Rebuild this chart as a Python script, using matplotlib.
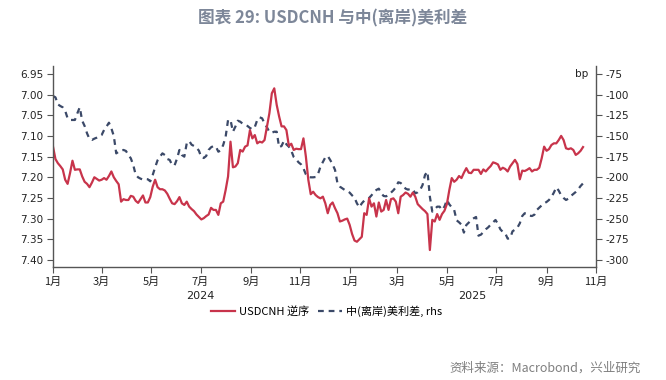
import numpy as np
import pandas as pd
import matplotlib
matplotlib.use("Agg")
import matplotlib.pyplot as plt
import matplotlib.dates as mdates
import matplotlib.transforms as mtransforms

plt.rcParams['font.family'] = ['Noto Sans CJK SC', 'DejaVu Sans']

# USDCNH (left axis, inverted), sampled every 3 days from 2024-01-01
usdcnh = [
    7.126, 7.156, 7.166, 7.173, 7.181, 7.206, 7.216, 7.190, 7.160, 7.182,
    7.181, 7.181, 7.198, 7.211, 7.216, 7.224, 7.213, 7.200, 7.204, 7.208,
    7.206, 7.202, 7.206, 7.197, 7.186, 7.200, 7.209, 7.217, 7.259, 7.253,
    7.255, 7.255, 7.245, 7.247, 7.257, 7.262, 7.253, 7.244, 7.261, 7.261,
    7.248, 7.223, 7.206, 7.224, 7.229, 7.229, 7.232, 7.240, 7.252, 7.263,
    7.265, 7.258, 7.248, 7.263, 7.267, 7.259, 7.271, 7.277, 7.282, 7.290,
    7.296, 7.302, 7.299, 7.294, 7.290, 7.274, 7.279, 7.279, 7.291, 7.263,
    7.259, 7.231, 7.198, 7.114, 7.176, 7.174, 7.166, 7.134, 7.138, 7.126,
    7.123, 7.086, 7.106, 7.098, 7.118, 7.114, 7.116, 7.110, 7.077, 7.045,
    6.997, 6.985, 7.025, 7.053, 7.077, 7.077, 7.086, 7.124, 7.119, 7.134,
    7.131, 7.132, 7.132, 7.106, 7.150, 7.206, 7.241, 7.235, 7.243, 7.248,
    7.251, 7.247, 7.263, 7.287, 7.267, 7.261, 7.275, 7.287, 7.307, 7.305,
    7.302, 7.300, 7.315, 7.337, 7.353, 7.356, 7.350, 7.344, 7.287, 7.291,
    7.251, 7.271, 7.263, 7.295, 7.261, 7.283, 7.279, 7.255, 7.279, 7.253,
    7.251, 7.259, 7.287, 7.247, 7.243, 7.237, 7.240, 7.247, 7.237, 7.247,
    7.265, 7.271, 7.277, 7.282, 7.289, 7.376, 7.303, 7.307, 7.289, 7.303,
    7.289, 7.281, 7.265, 7.231, 7.202, 7.211, 7.206, 7.197, 7.202, 7.189,
    7.178, 7.189, 7.190, 7.182, 7.182, 7.182, 7.192, 7.181, 7.186, 7.179,
    7.173, 7.164, 7.166, 7.169, 7.182, 7.177, 7.180, 7.186, 7.174, 7.166,
    7.158, 7.168, 7.205, 7.184, 7.185, 7.182, 7.178, 7.186, 7.182, 7.182,
    7.177, 7.154, 7.126, 7.136, 7.132, 7.122, 7.118, 7.118, 7.110, 7.100,
    7.110, 7.130, 7.132, 7.130, 7.134, 7.146, 7.142, 7.136, 7.127,
]

# CNH-US spread in bp (right axis)
spread = [
    -101.6, -103.2, -111.7, -113.7, -115.3, -119.4, -128.6, -130.6, -130.6, -130.6,
    -122.6, -115.3, -131.5, -137.9, -146.8, -153.6, -154.8, -153.2, -152.0, -150.4,
    -148.8, -142.7, -138.7, -133.9, -140.7, -150.0, -171.0, -169.0, -167.3, -166.9,
    -168.1, -173.0, -177.0, -185.1, -196.8, -200.0, -201.6, -202.8, -202.0, -202.4,
    -204.8, -197.2, -187.9, -179.4, -175.0, -171.0, -173.0, -177.8, -179.0, -185.1,
    -185.5, -177.4, -166.9, -173.0, -175.0, -158.9, -156.0, -160.5, -162.1, -164.1,
    -167.7, -175.8, -176.6, -174.2, -166.9, -163.7, -162.1, -162.9, -169.0, -167.3,
    -160.9, -150.8, -130.6, -130.6, -144.8, -138.7, -131.5, -132.7, -135.1, -136.7,
    -137.9, -140.3, -141.9, -139.1, -130.6, -127.4, -128.6, -134.7, -139.5, -145.2,
    -146.0, -144.8, -144.8, -163.7, -162.1, -155.6, -160.1, -162.9, -167.7, -175.4,
    -178.2, -181.9, -184.3, -189.1, -196.4, -199.6, -200.0, -200.0, -199.6, -196.0,
    -187.1, -181.4, -175.8, -174.2, -179.0, -184.3, -191.1, -207.3, -211.3, -213.3,
    -215.3, -216.5, -218.5, -221.8, -224.6, -231.5, -236.3, -231.5, -228.2, -226.6,
    -225.0, -221.8, -217.7, -215.3, -213.7, -219.4, -222.6, -223.0, -221.4, -218.5,
    -215.7, -212.1, -206.0, -206.9, -209.7, -213.7, -214.9, -214.1, -214.5, -219.4,
    -218.1, -215.3, -209.3, -197.2, -193.1, -223.4, -241.5, -238.7, -235.5, -235.5,
    -239.5, -235.5, -227.4, -232.7, -236.3, -239.5, -252.0, -254.4, -257.3, -266.9,
    -257.7, -254.8, -251.6, -249.6, -248.0, -270.6, -269.4, -266.1, -262.9, -260.5,
    -257.3, -254.4, -251.6, -256.5, -262.9, -266.1, -267.7, -274.2, -273.8, -265.3,
    -263.3, -260.9, -255.6, -246.8, -243.5, -243.9, -246.4, -246.8, -245.2, -239.5,
    -236.7, -233.9, -231.5, -229.8, -227.4, -223.8, -218.5, -212.1, -216.1, -221.8,
    -225.0, -227.4, -225.8, -222.6, -220.2, -217.7, -214.5, -210.5, -207.3,
]

dates = pd.date_range('2024-01-01', periods=len(usdcnh), freq='3D')

left_ticks = [6.95, 7.00, 7.05, 7.10, 7.15, 7.20, 7.25, 7.30, 7.35, 7.40]
right_ticks = [-75, -100, -125, -150, -175, -200, -225, -250, -275, -300]
years = ['2024', '2025']
year_centers = [pd.Timestamp('2024-07-01'), pd.Timestamp('2025-06-01')]

red = '#c8344b'
navy = '#3b4968'
axis_col = '#555555'

fig = plt.figure(figsize=(6.66, 3.8), dpi=100)
ax = fig.add_axes([0.0796, 0.2974, 0.8153, 0.5289])
ax2 = ax.twinx()

l1, = ax.plot(dates, usdcnh, color=red, lw=1.6, label='USDCNH 逆序')
l2, = ax2.plot(dates, spread, color=navy, lw=1.6, dashes=(2.6, 2.2),
               label='中(离岸)美利差, rhs')

ax.set_zorder(ax2.get_zorder() + 1)
ax.patch.set_visible(False)

ax.set_xlim(pd.Timestamp('2024-01-01'), pd.Timestamp('2025-11-01'))
ax.set_ylim(7.417, 6.931)
ax2.set_ylim(-308.5, -65.3)

ax.set_yticks(left_ticks)
ax.set_yticklabels([f'{v:.2f}' for v in left_ticks], family='DejaVu Sans', fontsize=7.5)
ax2.set_yticks(right_ticks)
ax2.set_yticklabels([str(v) for v in right_ticks], family='DejaVu Sans', fontsize=7.5)

ax.xaxis.set_major_locator(mdates.MonthLocator(bymonth=[1, 3, 5, 7, 9, 11]))
ax.xaxis.set_major_formatter(plt.FuncFormatter(
    lambda x, pos: f'{mdates.num2date(x).month}月'))
for lab in ax.get_xticklabels():
    lab.set_fontsize(8)

for a in (ax, ax2):
    a.spines['top'].set_visible(False)
    for s in ('left', 'right', 'bottom'):
        a.spines[s].set_color(axis_col)
        a.spines[s].set_linewidth(1.0)
    a.tick_params(colors='#222222', length=4, width=0.8, pad=3, color=axis_col)
ax.spines['right'].set_visible(False)
ax2.spines['left'].set_visible(False)
ax2.spines['bottom'].set_visible(False)

# year labels under month ticks
trans = mtransforms.blended_transform_factory(ax.transData, ax.transAxes)
for yr, c in zip(years, year_centers):
    ax.text(c, -0.145, yr, transform=trans, ha='center', va='center',
            fontsize=8, family='DejaVu Sans', color='#222222')

# unit label for right axis
trans2 = mtransforms.blended_transform_factory(ax2.transAxes, ax2.transData)
ax2.text(0.985, -75, 'bp', transform=trans2, ha='right', va='center',
         fontsize=7.5, family='DejaVu Sans', color='#222222')

fig.legend(handles=[l1, l2], loc='center', bbox_to_anchor=(0.49, 0.182),
           ncol=2, frameon=False, fontsize=8, handlelength=2.2,
           handletextpad=0.3, columnspacing=0.8)

fig.text(0.5, 0.952, '图表 29: USDCNH 与中(离岸)美利差', ha='center', va='center',
         fontsize=12, fontweight='bold', color='#7d8799')
fig.text(0.962, 0.032, '资料来源：Macrobond，兴业研究', ha='right', va='center',
         fontsize=9, color='#7f7f7f')

fig.savefig('out.png', dpi=100)
